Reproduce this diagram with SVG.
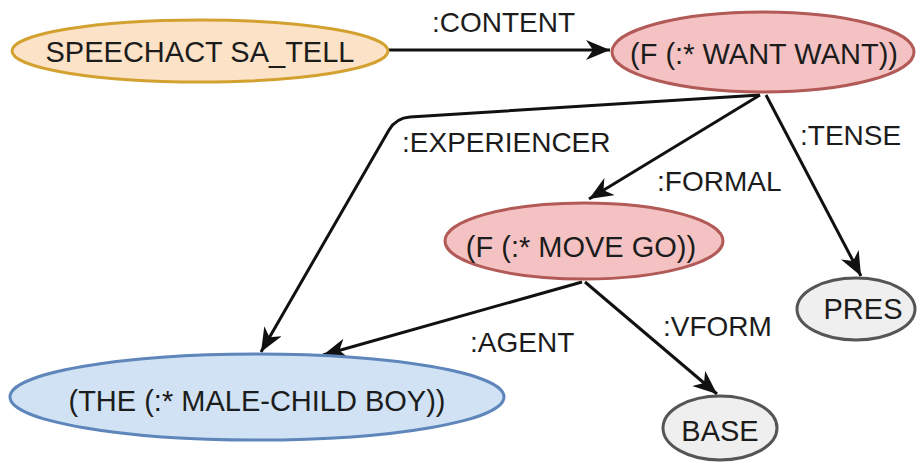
<svg xmlns="http://www.w3.org/2000/svg" width="919" height="462" viewBox="0 0 919 462">
<style>
text{font-family:"Liberation Sans",Arial,sans-serif;fill:#1c1c1c;}
.n{font-size:29px;text-anchor:middle;}
.l{font-size:28px;}
.e{fill:none;stroke:#111;stroke-width:3;marker-end:url(#ah);}
.orange{fill:#fce2c6;stroke:#d3a12f;stroke-width:3;}
.red{fill:#f4c2c2;stroke:#b25a57;stroke-width:3;}
.blue{fill:#d0e2f3;stroke:#5e86bb;stroke-width:3;}
.grey{fill:#efefef;stroke:#555;stroke-width:3;}
</style>
<defs>
<marker id="ah" markerUnits="userSpaceOnUse" markerWidth="26" markerHeight="22" refX="24" refY="10" orient="auto">
<path d="M0,0 L24,10 L0,20 L7,10 Z" fill="#111"/>
</marker>
</defs>
<rect width="919" height="462" fill="#fff"/>
<g id="connectors">
<path class="e" d="M387,50 L610,50"/>
<path class="e" d="M760,95 L410,117 Q396,118 389,130 L261,352"/>
<path class="e" d="M760,95 L589,199"/>
<path class="e" d="M766,95 L861,276"/>
<path class="e" d="M582,282 L323,355"/>
<path class="e" d="M585,282 L717,394"/>
<text class="l" x="432" y="32">:CONTENT</text>
<text class="l" x="402" y="152">:EXPERIENCER</text>
<text class="l" x="800" y="145">:TENSE</text>
<text class="l" x="657" y="191">:FORMAL</text>
<text class="l" x="470" y="352">:AGENT</text>
<text class="l" x="663" y="336">:VFORM</text>
</g>
<g id="speechact">
<ellipse class="orange" cx="200" cy="51" rx="188" ry="31"/>
<text class="n" x="200" y="62">SPEECHACT SA_TELL</text>
</g>
<g id="want">
<ellipse class="red" cx="763" cy="52" rx="151" ry="40"/>
<text class="n" x="764" y="64">(F (:* WANT WANT))</text>
</g>
<g id="move">
<ellipse class="red" cx="584" cy="241" rx="139" ry="38"/>
<text class="n" x="581" y="257">(F (:* MOVE GO))</text>
</g>
<g id="boy">
<ellipse class="blue" cx="257" cy="397" rx="247" ry="43"/>
<text class="n" x="257" y="411">(THE (:* MALE-CHILD BOY))</text>
</g>
<g id="pres">
<ellipse class="grey" cx="856" cy="309" rx="59" ry="31"/>
<text class="n" x="863" y="319">PRES</text>
</g>
<g id="base">
<ellipse class="grey" cx="720" cy="428" rx="57" ry="32"/>
<text class="n" x="720" y="441">BASE</text>
</g>
</svg>
